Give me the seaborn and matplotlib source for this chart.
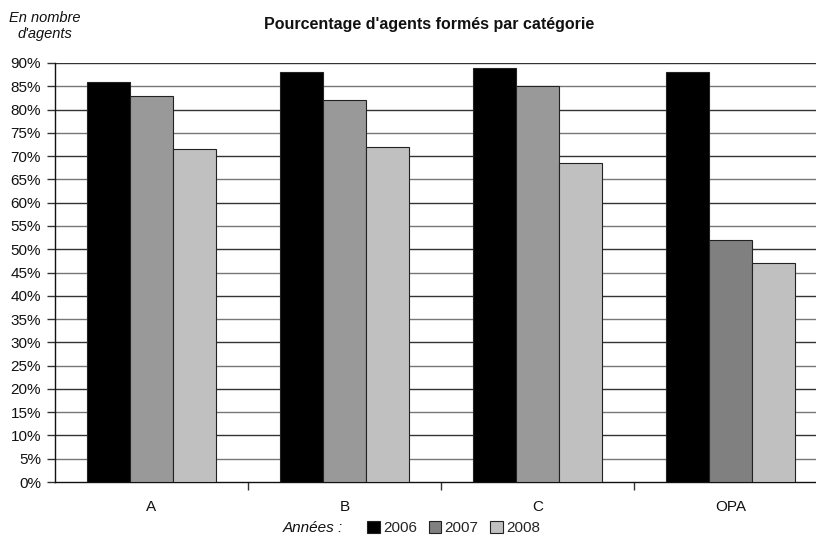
import matplotlib
matplotlib.use("Agg")
import matplotlib.pyplot as plt
import matplotlib.patches as mpatches
import seaborn as sns
import pandas as pd
import numpy as np

categories = ["A", "B", "C", "OPA"]
years = ["2006", "2007", "2008"]
v2006 = [86, 88, 89, 88]
v2007 = [83, 82, 85, 52]
v2008 = [71.5, 72, 68.5, 47]

rows = []
for i, c in enumerate(categories):
    rows.append((c, "2006", v2006[i]))
    rows.append((c, "2007", v2007[i]))
    rows.append((c, "2008", v2008[i]))
df = pd.DataFrame(rows, columns=["cat", "year", "val"])

sns.set_theme(style="white")
plt.rcParams['font.family'] = ['Liberation Sans', 'DejaVu Sans']

fig = plt.figure(figsize=(8.16, 5.37), dpi=100)
ax = fig.add_axes([55/816, 1-482/537, (816-55)/816, (482-63)/537])

palette = {"2006": "#000000", "2007": "#999999", "2008": "#c0c0c0"}
sns.barplot(data=df, x="cat", y="val", hue="year", palette=palette, ax=ax,
            width=0.668, edgecolor="#222222", linewidth=0.8, legend=False,
            saturation=1, zorder=3)

# OPA 2007 bar darker as in the reference
for p in ax.patches:
    xc = p.get_x() + p.get_width() / 2
    if 2.9 < xc < 3.1 and abs(p.get_facecolor()[0] - 0x99/255) < 0.01:
        p.set_facecolor("#808080")

ax.set_ylim(0, 90)
ax.set_xlim(-0.5, (816 - 151.5) / 193)
ax.set_yticks(np.arange(0, 91, 5))
ax.set_yticklabels([f"{v}%" for v in range(0, 91, 5)], fontsize=11, color="#111111")
ax.set_xticks(range(4))
ax.set_xticklabels(categories, fontsize=11, color="#111111")
ax.set_xticks([0.5, 1.5, 2.5], minor=True)
ax.tick_params(axis="x", which="major", length=0, pad=13)
ax.tick_params(axis="x", which="minor", length=6, width=1, color="#333333", bottom=True)
ax.tick_params(axis="y", length=6, width=1, color="#333333", left=True, pad=4)
ax.set_xlabel("")
ax.set_ylabel("")
for y in range(5, 91, 5):
    ax.axhline(y, color="#333333" if y % 10 == 0 else "#777777", lw=1, zorder=1)
for s in ["top", "right"]:
    ax.spines[s].set_visible(False)
ax.spines["left"].set_color("#111111")
ax.spines["left"].set_linewidth(1)
ax.spines["bottom"].set_color("#111111")
ax.spines["bottom"].set_linewidth(1)

fig.text(429/816, 1-24/537, "Pourcentage d'agents formés par catégorie",
         ha="center", va="center", fontsize=11.5, fontweight="bold", color="#111111")
fig.text(45/816, 1-26/537, "En nombre\nd'agents", ha="center", va="center",
         fontsize=10.5, style="italic", color="#111111", linespacing=1.15)

fig.text(343/816, 1-528/537, "Années :", ha="right", va="center",
         fontsize=11, style="italic", color="#111111")
handles = [mpatches.Patch(facecolor=c, edgecolor="#222222", linewidth=0.8, label=y)
           for y, c in zip(years, ["#000000", "#808080", "#c0c0c0"])]
fig.legend(handles=handles, loc="center left", bbox_to_anchor=(367/816, 1-528/537),
           ncol=3, frameon=False, fontsize=11, handlelength=0.85, handleheight=0.85,
           handletextpad=0.2, columnspacing=0.75, borderpad=0, borderaxespad=0)

fig.savefig("out.png", dpi=100)
